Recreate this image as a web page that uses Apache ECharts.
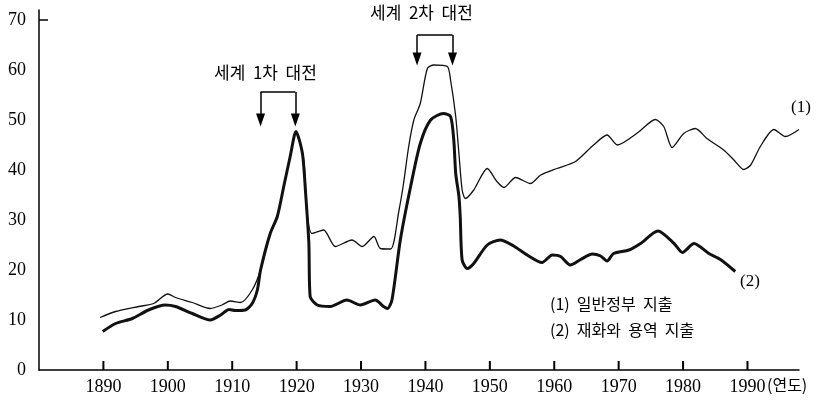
<!DOCTYPE html>
<html>
<head>
<meta charset="utf-8">
<script src="https://cdn.jsdelivr.net/npm/echarts@6/dist/echarts.min.js"></script>
<style>
  html, body { margin: 0; padding: 0; background: #fff; }
  #chart { width: 827px; height: 410px; }
</style>
</head>
<body>
<div id="chart"></div>
<script>
// (1) 일반정부 지출
const govYears = [1889.5, 1891.9, 1895.5, 1897.8, 1900.0, 1901.2, 1903.8, 1906.6, 1908.4, 1909.7,
  1911.3, 1913.1, 1914.4, 1915.9, 1917.0, 1918.0, 1919.0, 1919.9, 1921.1, 1921.6,
  1922.4, 1924.2, 1926.0, 1928.6, 1930.2, 1932.0, 1933.0, 1934.6, 1935.9, 1936.6,
  1937.4, 1938.2, 1939.2, 1940.3, 1941.3, 1943.4, 1943.9, 1944.7, 1945.2, 1945.7,
  1946.2, 1947.5, 1949.6, 1951.1, 1952.2, 1954.0, 1956.3, 1957.9, 1960.4, 1963.3,
  1966.1, 1968.2, 1969.8, 1973.0, 1975.7, 1977.0, 1978.3, 1980.1, 1981.9, 1983.7,
  1986.3, 1987.9, 1989.4, 1990.5, 1992.0, 1994.1, 1995.9, 1998.0];
const govValues = [10.5, 11.7, 12.7, 13.3, 15.2, 14.5, 13.5, 12.3, 13.0, 13.8,
  13.5, 16.0, 20.0, 27.3, 30.7, 36.7, 42.7, 47.7, 42.0, 31.3,
  27.3, 28.0, 24.7, 26.0, 24.7, 26.7, 24.3, 24.2, 32.0, 37.3,
  44.7, 50.0, 53.3, 60.3, 61.0, 60.7, 58.0, 50.7, 43.3, 36.0,
  34.3, 36.0, 40.3, 37.7, 36.5, 38.5, 37.3, 39.0, 40.3, 41.7,
  45.0, 47.0, 45.0, 47.5, 50.1, 48.7, 44.5, 47.3, 48.3, 46.3,
  44.0, 42.0, 40.1, 41.0, 44.7, 48.1, 46.7, 48.1];

// (2) 재화와 용역 지출
const goodsYears = [1889.9, 1891.9, 1894.5, 1897.0, 1899.6, 1901.2, 1903.8, 1906.6, 1908.2, 1909.5,
  1910.5, 1912.0, 1913.1, 1913.9, 1914.4, 1915.9, 1917.0, 1918.0, 1919.0, 1919.9,
  1920.9, 1921.4, 1921.9, 1922.1, 1923.2, 1925.2, 1927.8, 1929.9, 1932.2, 1933.5,
  1934.1, 1934.8, 1936.1, 1937.7, 1939.2, 1940.8, 1942.8, 1943.9, 1944.4, 1944.7,
  1945.2, 1945.4, 1945.7, 1946.5, 1947.5, 1949.6, 1951.6, 1953.7, 1955.8, 1958.1,
  1959.7, 1961.0, 1962.5, 1964.1, 1965.9, 1967.2, 1968.2, 1969.2, 1971.6, 1973.4,
  1976.1, 1978.6, 1979.9, 1981.7, 1984.0, 1985.8, 1988.1];
const goodsValues = [7.7, 9.3, 10.3, 12.0, 13.0, 12.7, 11.3, 10.0, 11.0, 12.1,
  11.9, 12.0, 13.3, 16.0, 20.0, 27.3, 30.7, 36.7, 42.7, 47.7,
  43.3, 35.3, 25.3, 14.7, 13.0, 12.7, 14.0, 13.0, 14.0, 12.7,
  12.3, 14.0, 26.0, 36.7, 45.3, 50.0, 51.3, 50.7, 46.0, 39.3,
  34.7, 30.7, 22.0, 20.3, 21.3, 25.0, 26.0, 24.8, 23.0, 21.5,
  23.0, 22.7, 21.0, 22.1, 23.2, 22.8, 21.8, 23.3, 24.0, 25.3,
  27.8, 25.3, 23.5, 25.3, 23.3, 22.1, 19.7];

const xTicks = [1890, 1900, 1910, 1920, 1930, 1940, 1950, 1960, 1970, 1980, 1990];
const yTicks = [0, 10, 20, 30, 40, 50, 60, 70];

// war periods (start, end years)
const ww1 = [1914.4, 1919.8];
const ww2 = [1938.7, 1944.2];

const pair = (xs, ys) => xs.map((x, i) => [x, ys[i]]);

const bracket = (war, top, tip) => [
  [{ coord: [war[0], top], symbol: 'none' }, { coord: [war[1], top], symbol: 'none' }],
  [{ coord: [war[0], top], symbol: 'none' }, { coord: [war[0], tip], symbol: 'triangle' }],
  [{ coord: [war[1], top], symbol: 'none' }, { coord: [war[1], tip], symbol: 'triangle' }]
];

const serif = '"Liberation Serif", "DejaVu Serif", serif';
const kr = '"Noto Sans CJK KR", sans-serif';

const option = {
  animation: false,
  grid: { left: 39, right: 28, top: 10, bottom: 40 },
  xAxis: {
    type: 'value',
    min: 1880,
    max: 1998,
    interval: 10,
    splitLine: { show: false },
    axisLine: { lineStyle: { color: '#000', width: 1.5 } },
    axisTick: { show: false },
    axisLabel: {
      customValues: xTicks, color: '#000', fontSize: 18, fontFamily: serif, margin: 8,
      formatter: v => String(v)
    }
  },
  yAxis: {
    type: 'value',
    min: 0,
    max: 72,
    interval: 10,
    splitLine: { show: false },
    axisLine: { show: true, lineStyle: { color: '#000', width: 1.5 } },
    axisTick: { inside: true, length: 9, customValues: [70], lineStyle: { color: '#000', width: 1.5 } },
    axisLabel: { customValues: yTicks, color: '#000', fontSize: 18, fontFamily: serif, margin: 13 }
  },
  series: [
    {
      name: '(1) 일반정부 지출',
      type: 'line',
      data: pair(govYears, govValues),
      smooth: 0.25,
      symbol: 'none',
      lineStyle: { color: '#111', width: 1.3 }
    },
    {
      name: '(2) 재화와 용역 지출',
      type: 'line',
      data: pair(goodsYears, goodsValues),
      smooth: 0.25,
      symbol: 'none',
      lineStyle: { color: '#111', width: 3 },
      markLine: {
        silent: true,
        symbolSize: [9, 13],
        label: { show: false },
        lineStyle: { color: '#000', width: 1.5, type: 'solid' },
        data: bracket(ww1, 55.6, 50.0).concat(bracket(ww2, 67.0, 62.2))
      }
    },
    {
      // short upward ticks on the year axis
      name: 'ticks',
      type: 'scatter',
      silent: true,
      clip: false,
      z: 5,
      data: xTicks.map(yr => [yr, 0]),
      symbol: 'rect',
      symbolSize: [2, 9],
      symbolOffset: [0, -4.5],
      itemStyle: { color: '#000', opacity: 1 }
    }
  ],
  graphic: [
    { type: 'text', left: 214, top: 64, style: { text: '세계  1차  대전', fontSize: 17, fontFamily: kr, fill: '#000' } },
    { type: 'text', left: 370, top: 4, style: { text: '세계  2차  대전', fontSize: 17, fontFamily: kr, fill: '#000' } },
    { type: 'text', left: 791, top: 99, style: { text: '(1)', fontSize: 17, fontFamily: serif, fill: '#000' } },
    { type: 'text', left: 740, top: 273, style: { text: '(2)', fontSize: 17, fontFamily: serif, fill: '#000' } },
    { type: 'text', left: 550, top: 296, style: { text: '(1)  일반정부  지출', fontSize: 16, fontFamily: kr, fill: '#000' } },
    { type: 'text', left: 550, top: 322, style: { text: '(2)  재화와  용역  지출', fontSize: 16, fontFamily: kr, fill: '#000' } },
    { type: 'text', left: 767, top: 377, style: { text: '(연도)', fontSize: 16, fontFamily: kr, fill: '#000' } }
  ]
};

const myChart = echarts.init(document.getElementById('chart'));
myChart.setOption(option);
</script>
</body>
</html>
